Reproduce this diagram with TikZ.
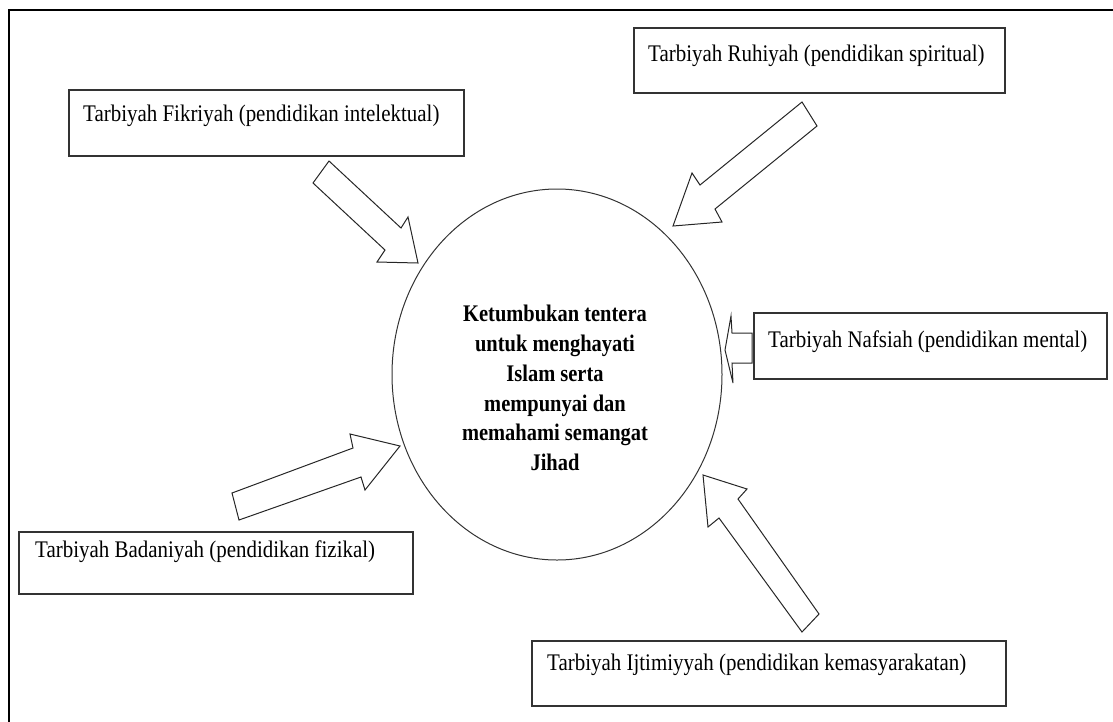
\documentclass[tikz,border=0pt]{standalone}
\usepackage{fontspec}
\setmainfont{Liberation Serif}
\newfontfamily\narrowserif[FakeStretch=0.88]{Liberation Serif}
\newfontfamily\narrowbold[FakeStretch=0.86]{Liberation Serif}
\usetikzlibrary{shapes.geometric}
\begin{document}
\begin{tikzpicture}[x=1pt,y=-1pt,
  framebox/.style={draw=black!80,line width=1.3pt,rectangle,inner sep=0pt},
  lbl/.style={anchor=base west,inner sep=0pt,font=\narrowserif\fontsize{23.8}{28}\selectfont},
  blockarrow/.style={draw=black!85,line width=1pt,line join=miter},
]
\useasboundingbox (0,0) rectangle (1113,721);
\begin{scope}
\clip (0,0) rectangle (1113,721);
\draw[line width=2pt] (9,10) rectangle (1125,735);
\end{scope}
% central ellipse
\node[draw=black!80,line width=1pt,ellipse,minimum width=330pt,minimum height=371pt,inner sep=0pt] (c) at (557,374.5) {};
\node[align=center,inner sep=0pt,font=\narrowbold\fontsize{23.8}{29.7}\selectfont\bfseries] (ct) at (555,388)
  {Ketumbukan tentera\\untuk menghayati\\Islam serta\\mempunyai dan\\memahami semangat\\Jihad};
% boxes
\node[framebox,minimum width=395pt,minimum height=66pt] (fik) at (266.5,123) {};
\node[lbl] (fikt) at (83,121) {Tarbiyah Fikriyah (pendidikan intelektual)};
\node[framebox,minimum width=371pt,minimum height=65pt] (ruh) at (819.5,60.5) {};
\node[lbl] (ruht) at (648,61) {Tarbiyah Ruhiyah (pendidikan spiritual)};
\node[framebox,minimum width=353pt,minimum height=66pt] (naf) at (930.5,346) {};
\node[lbl] (naft) at (768,347) {Tarbiyah Nafsiah (pendidikan mental)};
\node[framebox,minimum width=394pt,minimum height=62pt] (bad) at (216,563) {};
\node[lbl] (badt) at (35,557) {Tarbiyah Badaniyah (pendidikan fizikal)};
\node[framebox,minimum width=474pt,minimum height=65pt] (ijt) at (769,673.5) {};
\node[lbl] (ijtt) at (547,670) {Tarbiyah Ijtimiyyah (pendidikan kemasyarakatan)};
% block arrows
\draw[blockarrow] (329,161) -- (401,228) -- (408,217) -- (418,263) -- (377,262) -- (385,250) -- (313,183) -- cycle;
\draw[blockarrow] (802,102) -- (700,185) -- (692,173) -- (673,226) -- (722,222) -- (715,209) -- (817,126) -- cycle;
\draw[blockarrow] (752,333) -- (732,333) -- (731,316) -- (725,350) -- (733,383) -- (732,363) -- (752,363) -- cycle;
\draw[blockarrow] (232,493) -- (353,448) -- (350,434) -- (400,446) -- (365,490) -- (361,477) -- (239,520) -- cycle;
\draw[blockarrow] (703,475) -- (747,489) -- (738,499) -- (819,614) -- (802,632) -- (719,518) -- (708,527) -- cycle;
\end{tikzpicture}
\end{document}
